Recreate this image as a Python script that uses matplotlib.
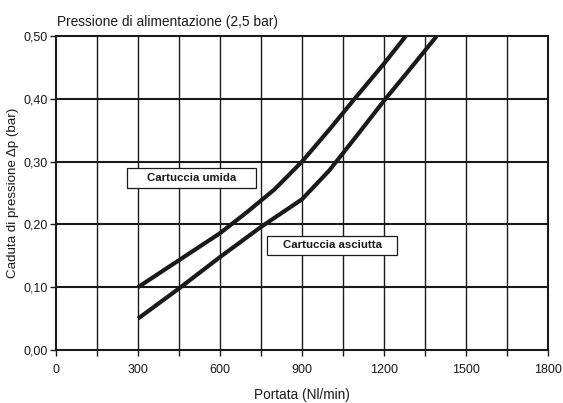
import matplotlib.pyplot as plt
from matplotlib.patches import Rectangle
from matplotlib.ticker import FuncFormatter, MultipleLocator

plt.rcParams["font.family"] = ["Liberation Sans", "DejaVu Sans"]

# Pressure drop curves (Nl/min -> bar)
flow_wet = [300, 450, 600, 700, 800, 900, 1000, 1100, 1200, 1280]
drop_wet = [0.10, 0.143, 0.186, 0.22, 0.256, 0.30, 0.351, 0.404, 0.456, 0.50]

flow_dry = [300, 450, 600, 750, 900, 1000, 1100, 1200, 1300, 1393]
drop_dry = [0.05, 0.098, 0.148, 0.196, 0.24, 0.286, 0.341, 0.397, 0.45, 0.50]

x_ticks = [0, 300, 600, 900, 1200, 1500, 1800]
y_ticks = [0.0, 0.1, 0.2, 0.3, 0.4, 0.5]

fig = plt.figure(figsize=(5.63, 4.03), dpi=100)
ax = fig.add_axes([0.0995, 0.1315, 0.8739, 0.7792])

ax.set_xlim(0, 1800)
ax.set_ylim(0, 0.5)

# grid: thin verticals every 150, heavier horizontals every 0.1
for xv in range(150, 1800, 150):
    ax.axvline(xv, color="#1a1a1a", lw=1.0, zorder=1)
for yv in y_ticks[1:-1]:
    ax.axhline(yv, color="#1a1a1a", lw=1.5, zorder=1)

ax.plot(flow_wet, drop_wet, color="#1a1a1a", lw=3.0, solid_capstyle="butt",
        solid_joinstyle="round", zorder=3)
ax.plot(flow_dry, drop_dry, color="#1a1a1a", lw=3.0, solid_capstyle="butt",
        solid_joinstyle="round", zorder=3)

# label boxes
for (x0, y0, w, h, label) in [
    (260, 0.258, 472, 0.032, "Cartuccia umida"),
    (772, 0.151, 476, 0.031, "Cartuccia asciutta"),
]:
    ax.add_patch(Rectangle((x0, y0), w, h, facecolor="white", edgecolor="#1a1a1a",
                           lw=0.9, zorder=4))
    ax.text(x0 + w / 2, y0 + h / 2, label, ha="center", va="center",
            fontsize=8.2, fontweight="bold", color="#1a1a1a", zorder=5)

ax.set_xticks(x_ticks)
ax.xaxis.set_minor_locator(MultipleLocator(150))
ax.set_yticks(y_ticks)
ax.yaxis.set_major_formatter(FuncFormatter(lambda v, p: f"{v:.2f}".replace(".", ",")))

ax.tick_params(axis="both", which="both", direction="out", length=4, width=1.0,
               color="#1a1a1a", labelsize=9, labelcolor="#1a1a1a", pad=2)
ax.tick_params(axis="x", pad=6)

for sp in ax.spines.values():
    sp.set_linewidth(1.5)
    sp.set_color("#1a1a1a")

ax.set_xlabel("Portata (Nl/min)", fontsize=9.8, color="#1a1a1a", labelpad=9)
ax.set_ylabel("Caduta di pressione Δp (bar)", fontsize=9.6, color="#1a1a1a", labelpad=3)
fig.text(0.101, 0.945, "Pressione di alimentazione (2,5 bar)", fontsize=9.9,
         color="#1a1a1a", ha="left", va="center")

fig.savefig("out.png", dpi=100)
